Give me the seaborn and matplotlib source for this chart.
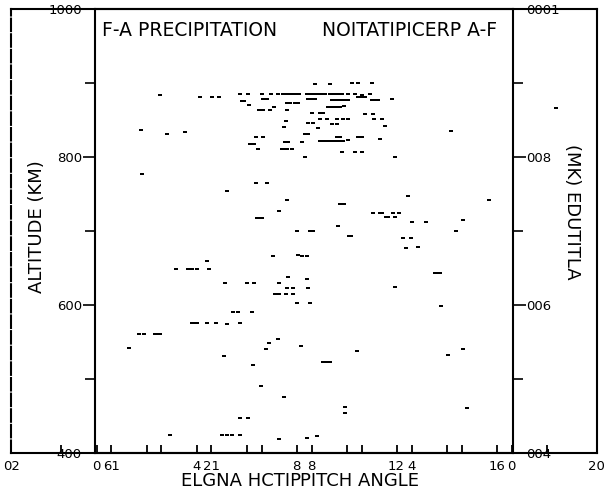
import numpy as np
import pandas as pd
import matplotlib
matplotlib.use("Agg")
import matplotlib.pyplot as plt
from matplotlib.path import Path
import seaborn as sns

# ---- data (pitch angle in degrees, altitude in km) ----
pitch = [
    2.54, 4.15, 4.63, 4.90, 5.74, 6.05, 6.67, 5.81, 5.91, 6.11, 6.50, 6.67, 1.78, 2.82, 3.54,
    6.37, 6.65, 6.15, 6.31, 6.47,
    8.74, 9.35, 10.21, 10.47, 11.03,
    6.63, 6.98, 7.27, 7.47, 7.62, 7.70, 7.78, 7.86, 7.94, 8.02, 8.10, 8.40, 8.48, 8.56, 8.64,
    8.72, 8.80, 8.88, 8.96, 9.04, 9.12, 9.34, 9.42, 9.50, 9.58, 9.66, 9.74, 9.82, 10.07, 10.34,
    10.61, 10.94,
    6.81, 8.46, 8.56, 8.66, 8.74, 9.41, 9.50, 9.60, 9.70, 9.80, 9.90, 10.00, 10.07, 10.46, 10.61,
    10.74, 11.01, 11.10, 11.27, 11.83,
    7.61, 7.74, 7.94, 8.07,
    6.94, 7.11, 7.62,
    9.26, 9.38, 9.50, 9.62, 9.74, 9.91,
    8.61, 8.94, 9.07, 10.74, 11.07,
    8.94, 9.21, 9.61, 9.87, 10.05, 11.11, 11.41,
    7.57, 8.47, 8.67, 9.43, 9.61,
    7.51, 8.85, 11.54,
    8.34, 8.47,
    9.61, 9.74, 10.47, 10.61, 11.34,
    7.54, 7.67, 8.21, 8.94, 9.06, 9.18, 9.30, 9.42, 9.54, 9.66, 9.78, 9.87, 10.05,
    7.41, 7.51, 7.61, 7.81,
    9.83, 10.34, 10.61,
    8.34, 11.94,
    1.81, 6.39, 6.81, 5.22, 7.62, 7.29, 6.41, 6.51, 6.61, 8.01, 7.05, 8.07, 4.43,
    3.19, 3.65, 3.82, 4.01, 4.50, 5.14, 6.02, 6.29, 7.31, 7.65, 7.63, 7.87,
    7.14, 7.30, 7.59, 7.85, 8.02, 5.47, 5.65, 6.22,
    12.47, 9.74, 9.91, 15.71, 11.05, 11.34, 11.41, 11.85, 12.09, 11.58, 11.67, 11.93,
    12.61, 13.18, 14.66, 9.65, 8.54, 8.65, 14.38, 10.11, 10.17, 12.27, 12.58, 12.37, 12.85,
    8.21, 8.43, 13.54, 13.64, 13.74, 8.43, 8.47, 11.93, 8.54, 13.77,
    3.81, 3.90, 4.01, 4.43, 4.78, 5.23, 5.74, 1.71, 1.90, 2.34, 2.44, 2.54, 1.29,
    7.27, 6.89, 6.78, 8.18, 5.11, 6.27, 6.58, 7.50, 5.74, 6.05,
    5.01, 5.20, 5.41, 5.75, 2.94, 7.31,
    9.07, 9.20, 9.34, 10.41, 14.07, 14.65, 9.94, 9.94, 14.83, 8.43, 8.81,
    14.17, 18.38,
]
altitude = [
    883, 881, 881, 881, 885, 885, 878, 875, 875, 870, 863, 863, 836, 831, 833,
    826, 826, 817, 817, 811,
    898, 898, 900, 899, 900,
    884, 884, 884, 884, 884, 884, 884, 884, 884, 884, 884, 884, 884, 884, 884,
    884, 884, 884, 884, 884, 884, 884, 884, 884, 884, 884, 884, 884, 885, 885,
    883, 885,
    878, 878, 878, 878, 878, 877, 877, 877, 877, 877, 877, 877, 877, 880, 880,
    880, 876, 876, 876, 878,
    873, 873, 873, 873,
    863, 867, 863,
    867, 867, 867, 867, 867, 868,
    859, 859, 859, 858, 858,
    851, 851, 851, 851, 851, 851, 851,
    848, 845, 845, 844, 844,
    840, 839, 841,
    830, 830,
    827, 827, 826, 826, 824,
    820, 820, 820, 821, 821, 821, 821, 821, 821, 821, 821, 821, 823,
    810, 810, 810, 811,
    806, 806, 806,
    799, 799,
    776, 765, 765, 754, 742, 727, 717, 717, 717, 700, 666, 667, 659,
    648, 648, 648, 648, 648, 629, 630, 630, 630, 638, 623, 623,
    615, 615, 615, 615, 602, 590, 590, 590,
    747, 736, 736, 741, 724, 724, 724, 724, 724, 718, 718, 718,
    712, 712, 715, 706, 700, 700, 699, 693, 693, 690, 690, 677, 678,
    666, 666, 643, 643, 643, 635, 623, 624, 602, 598,
    575, 575, 575, 575, 575, 574, 575, 561, 561, 561, 561, 561, 542,
    554, 548, 540, 544, 531, 519, 491, 476, 447, 447,
    424, 424, 424, 424, 424, 419,
    523, 523, 523, 538, 532, 541, 462, 454, 461, 420, 423,
    835, 866,
]

x_major = [0, 4, 8, 12, 16, 20]
x_minor = [2, 6, 10, 14, 18]
x_labels = ["0", "4", "8", "12", "16", "20"]
x_labels_mirror = ["0", "4", "8", "21", "61", "02"]
y_major = [400, 600, 800, 1000]
y_minor = [500, 700, 900]
y_labels = ["400", "600", "800", "1000"]
y_labels_mirror = ["004", "006", "008", "0001"]

title = "F-A PRECIPITATION"
title_mirror = "NOITATIPICERP A-F"
xlabel = "PITCH ANGLE"
xlabel_mirror = "ELGNA HCTIP"
ylabel = "ALTITUDE (KM)"
ylabel_mirror = "(MK) EDUTITLA"

sns.set_style("ticks")
plt.rcParams['font.family'] = ['DejaVu Sans']
plt.rcParams.update({"text.color": "black", "xtick.color": "black",
                     "ytick.color": "black", "axes.labelcolor": "black",
                     "axes.edgecolor": "black"})

W, H = 605, 496
fig = plt.figure(figsize=(W / 100, H / 100), dpi=100)
fig.patch.set_facecolor("white")


def rect(l, b, r, t):
    return [l / W, 1 - b / H, (r - l) / W, (b - t) / H]


ax = fig.add_axes(rect(95, 453, 597, 8.5))
ax2 = fig.add_axes(rect(11, 453, 513, 8.5))
ax2.patch.set_visible(False)

df = pd.DataFrame({"pitch": pitch, "altitude": altitude})
dash = Path([(-1, -0.6), (1, -0.6), (1, 0.6), (-1, 0.6), (-1, -0.6)], closed=True)
sns.scatterplot(data=df, x="pitch", y="altitude", marker=dash, s=8,
                color="black", linewidth=0, ax=ax, legend=False, zorder=3)

for a, xl in ((ax, (-0.06, 20.02)), (ax2, (20.02, -0.06))):
    a.set_xlim(*xl)
    a.set_ylim(400, 1000)
    a.set_xlabel("")
    a.set_ylabel("")
    for s in a.spines.values():
        s.set_visible(True)
        s.set_linewidth(1.5)
        s.set_color("black")

# normal axes ticks
ax.set_xticks(x_major)
ax.set_xticklabels(x_labels)
ax.set_xticks(x_minor, minor=True)
ax.tick_params(axis="x", which="both", direction="in", length=6, width=1.3,
               pad=5, labelsize=9.5, bottom=True, top=False, colors="black")
ax.set_yticks(y_major)
ax.set_yticklabels(y_labels)
ax.set_yticks(y_minor, minor=True)
ax.tick_params(axis="y", which="major", direction="out", length=9, width=1.2,
               pad=0.5, labelsize=9.5, left=True, right=False, colors="black")
ax.tick_params(axis="y", which="minor", direction="out", length=7, width=1.2,
               left=True, right=False, colors="black")

# mirrored (show-through) frame
ax2.spines["left"].set_linestyle((0, (6, 1.5)))
ax2.set_xticks(x_major)
ax2.set_xticklabels(x_labels_mirror)
ax2.set_xticks(x_minor, minor=True)
ax2.tick_params(axis="x", which="both", direction="in", length=6, width=1.3,
                pad=5, labelsize=9.5, bottom=True, top=False, colors="black")
ax2.set_yticks(y_major)
ax2.set_yticklabels(y_labels_mirror)
ax2.set_yticks(y_minor, minor=True)
ax2.tick_params(axis="y", which="major", direction="out", length=9, width=1.2,
                pad=0.5, labelsize=9.5, left=False, right=True,
                labelleft=False, labelright=True, colors="black")
ax2.tick_params(axis="y", which="minor", direction="out", length=7, width=1.2,
                left=False, right=True, colors="black")

# texts
fig.text(102 / W, 1 - 30 / H, title, ha="left", va="center", fontsize=13.5, color="black")
fig.text(497 / W, 1 - 30 / H, title_mirror, ha="right", va="center", fontsize=13.5, color="black")
fig.text(419 / W, 1 - 481 / H, xlabel, ha="right", va="center", fontsize=13, color="black")
fig.text(181 / W, 1 - 481 / H, xlabel_mirror, ha="left", va="center", fontsize=13, color="black")
fig.text(37 / W, 1 - 227 / H, ylabel, rotation=90, ha="center", va="center", fontsize=13, color="black")
fig.text(572 / W, 1 - 212 / H, ylabel_mirror, rotation=270, ha="center", va="center", fontsize=13, color="black")

fig.savefig("out.png", dpi=100, facecolor="white")
